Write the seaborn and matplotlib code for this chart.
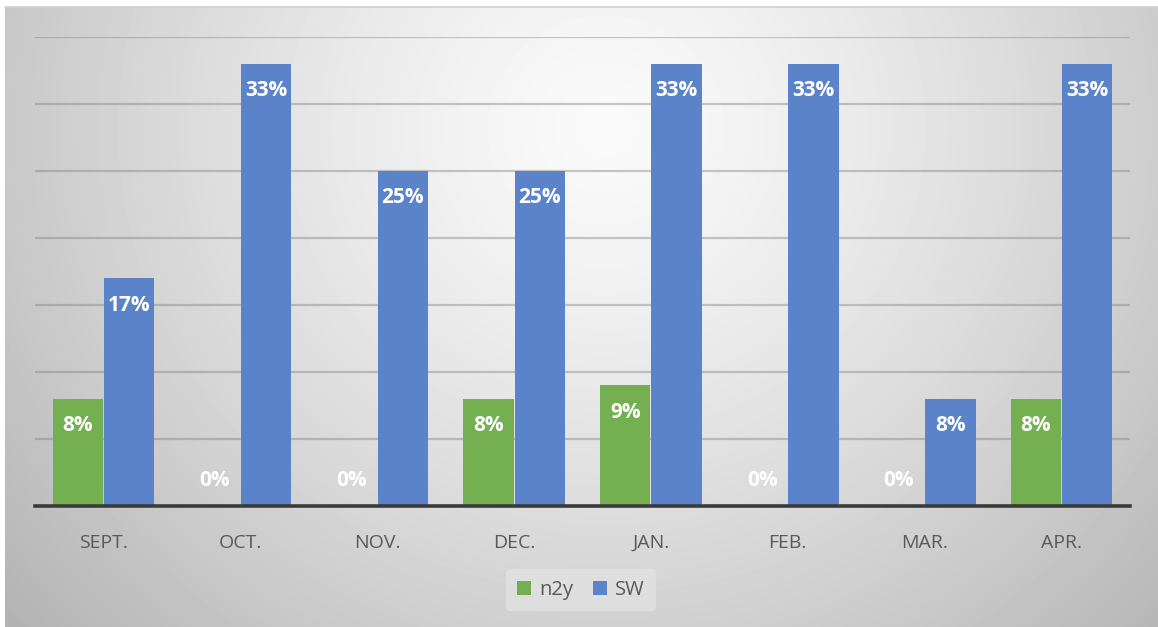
import numpy as np
import pandas as pd
import matplotlib
matplotlib.use("Agg")
import matplotlib.pyplot as plt
import seaborn as sns

months = ["SEPT.", "OCT.", "NOV.", "DEC.", "JAN.", "FEB.", "MAR.", "APR."]
n2y = [8, 0, 0, 8, 9, 0, 0, 8]
sw = [17, 33, 25, 25, 33, 33, 8, 33]
series_names = ["n2y", "SW"]
colors = ["#74AF52", "#5A83C9"]

df = pd.DataFrame({
    "month": months * 2,
    "value": n2y + sw,
    "series": [series_names[0]] * len(months) + [series_names[1]] * len(months),
})

sns.set_theme(style="white")
plt.rcParams["font.family"] = ["Open Sans", "DejaVu Sans"]

W, H, DPI = 1158, 627, 100
fig = plt.figure(figsize=(W / DPI, H / DPI), dpi=DPI)
fig.patch.set_facecolor("white")

# background gradient panel
bg = fig.add_axes([5 / W, 0, (W - 5) / W, (H - 7) / H], zorder=-10)
hh, ww = H - 7, W - 5
yy, xx = np.mgrid[0:hh, 0:ww]
d = np.sqrt(((xx - 600) / 650.0) ** 2 + ((yy - 120) / 620.0) ** 2)
val = np.clip(250 - 55 * d ** 1.3, 170, 255) / 255.0
bg.imshow(val, cmap="gray", vmin=0, vmax=1, aspect="auto", interpolation="bilinear")
bg.axis("off")
fig.add_artist(plt.Line2D([5 / W, 1], [1 - 7 / H, 1 - 7 / H], color="#d0d0d0", lw=1.2))

ax = fig.add_axes([35 / W, 1 - 506 / H, (1130 - 35) / W, (506 - 37) / H])
ax.set_facecolor("none")
sns.barplot(data=df, x="month", y="value", hue="series", palette=colors,
            width=0.75, gap=0.02, ax=ax, saturation=1, errorbar=None, zorder=3,
            edgecolor="none", linewidth=0)

ax.set_ylim(0, 35)
ax.set_xlim(-0.5, len(months) - 0.5)
ax.set_yticks(np.arange(5, 36, 5))
ax.yaxis.grid(True, color="#7f7f7f", alpha=0.42, lw=1.6, zorder=0)
ax.set_axisbelow(True)
for s in ["top", "right", "left"]:
    ax.spines[s].set_visible(False)
ax.spines["bottom"].set_color("#3a3a3a")
ax.spines["bottom"].set_linewidth(2.6)
ax.spines["bottom"].set_zorder(5)
ax.tick_params(axis="y", left=False, labelleft=False)
ax.tick_params(axis="x", bottom=False, labelsize=14, labelcolor="#595959", pad=14)
ax.set_xlabel("")
ax.set_ylabel("")

for cont in ax.containers:
    for bar in cont:
        v = bar.get_height()
        x = bar.get_x() + bar.get_width() / 2
        off = 25 if v == 0 else -27
        ax.annotate(f"{v:.0f}%", (x, v), xytext=(0, off), textcoords="offset pixels",
                    ha="center", va="center", color="white", fontsize=15,
                    fontweight="bold", zorder=6)

handles, labels = ax.get_legend_handles_labels()
if ax.get_legend() is not None:
    ax.get_legend().remove()
leg = fig.legend(handles, labels, loc="center", bbox_to_anchor=(581 / W, 1 - 590 / H),
                 ncol=2, frameon=True, fontsize=14.5, handlelength=0.7, handleheight=0.7,
                 handletextpad=0.4, columnspacing=1.0, borderpad=0.55)
leg.get_frame().set_facecolor("#e2e2e2")
leg.get_frame().set_edgecolor("none")
leg.get_frame().set_alpha(0.8)
for t in leg.get_texts():
    t.set_color("#595959")

fig.savefig("out.png", dpi=DPI)
